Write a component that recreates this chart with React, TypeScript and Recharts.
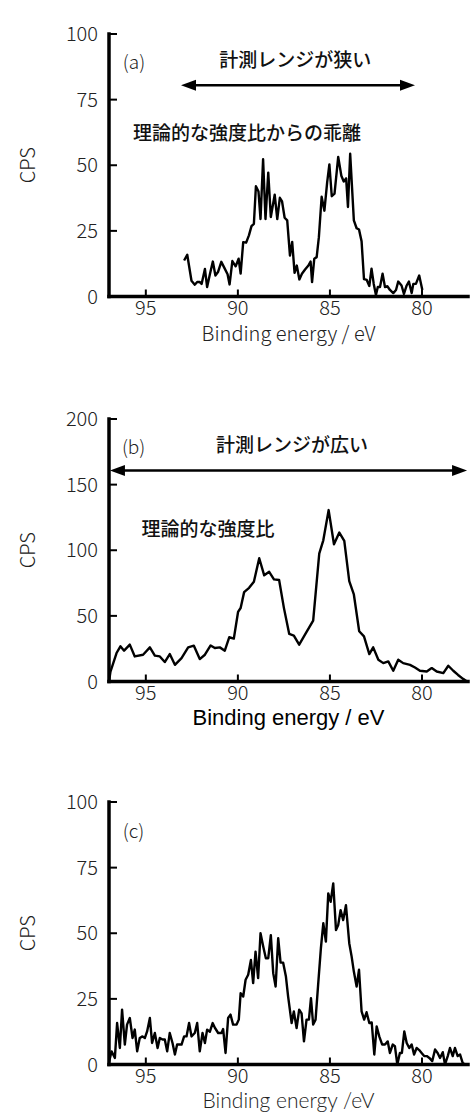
import React from 'react';
import { LineChart, Line, XAxis, YAxis, ReferenceLine, ReferenceDot, Label } from 'recharts';

// ---------------- data ----------------
const xTicks = [95, 90, 85, 80];
const yTicksA = [0, 25, 50, 75, 100];
const yTicksB = [0, 50, 100, 150, 200];
const yTicksC = [0, 25, 50, 75, 100];

const aEnergy = [92.92, 92.75, 92.52, 92.34, 92.21, 92.07, 91.97, 91.79, 91.67, 91.52, 91.36, 91.22, 91.08, 90.9, 90.74, 90.56, 90.45, 90.3, 90.12, 89.96, 89.85, 89.71, 89.55, 89.4, 89.26, 89.13, 89.02, 88.88, 88.77, 88.63, 88.5, 88.35, 88.21, 88.0, 87.86, 87.72, 87.6, 87.46, 87.32, 87.17, 87.05, 86.92, 86.8, 86.66, 86.52, 86.35, 86.17, 86.05, 85.97, 85.85, 85.72, 85.6, 85.45, 85.3, 85.15, 85.03, 84.9, 84.75, 84.55, 84.38, 84.25, 84.12, 84.02, 83.9, 83.7, 83.55, 83.42, 83.28, 83.15, 83.0, 82.86, 82.74, 82.62, 82.5, 82.4, 82.28, 82.14, 82.01, 81.88, 81.74, 81.56, 81.41, 81.29, 81.11, 80.98, 80.83, 80.71, 80.56, 80.47, 80.33, 80.15, 79.98];
const aCps = [13.7, 15.9, 6.0, 4.5, 5.5, 5.5, 4.8, 10.5, 3.6, 8.5, 13.3, 8.0, 9.3, 13.2, 11.0, 8.5, 4.6, 13.5, 11.5, 14.4, 8.7, 20.7, 20.5, 23.3, 26.8, 27.7, 42.0, 40.0, 29.5, 52.3, 29.5, 47.2, 30.3, 38.8, 29.5, 37.6, 36.2, 30.0, 29.0, 15.6, 20.8, 9.0, 11.8, 6.5, 8.7, 10.3, 11.8, 13.3, 5.5, 14.4, 15.0, 22.6, 38.0, 32.7, 43.5, 50.3, 38.2, 39.2, 53.2, 46.0, 43.8, 45.0, 34.1, 54.4, 29.0, 26.0, 25.5, 21.0, 6.6, 6.3, 4.0, 10.6, 4.8, 0.6, 3.6, 3.6, 8.7, 3.6, 3.9, 2.5, 1.3, 2.5, 5.7, 4.2, 1.0, 4.2, 5.7, 1.3, 4.8, 4.8, 8.0, 2.5];

const bEnergy = [97.0, 96.92, 96.59, 96.38, 96.18, 95.87, 95.6, 95.15, 94.78, 94.51, 94.24, 93.97, 93.7, 93.42, 93.06, 92.7, 92.39, 92.07, 91.79, 91.48, 91.25, 90.98, 90.71, 90.47, 90.22, 89.99, 89.85, 89.66, 89.39, 89.13, 88.84, 88.57, 88.3, 88.04, 87.76, 87.5, 87.21, 86.96, 86.67, 86.3, 85.91, 85.58, 85.36, 85.07, 84.78, 84.49, 84.22, 83.95, 83.7, 83.41, 83.15, 82.86, 82.65, 82.37, 82.1, 81.83, 81.56, 81.29, 81.02, 80.65, 80.38, 80.11, 79.74, 79.47, 79.2, 78.84, 78.57, 78.3, 78.04, 77.77, 77.55];
const bCps = [0, 7.6, 21.7, 26.8, 23.5, 28.1, 19.1, 20.4, 26.0, 19.7, 19.1, 14.8, 20.9, 12.7, 17.8, 26.0, 27.3, 17.1, 20.4, 27.5, 25.5, 26.0, 23.5, 33.7, 32.7, 53.0, 56.0, 68.1, 71.4, 76.0, 93.9, 80.9, 83.6, 77.8, 77.3, 56.1, 36.2, 35.0, 28.1, 37.0, 46.4, 97.5, 107.6, 130.6, 104.6, 113.5, 107.1, 76.5, 66.3, 38.3, 34.4, 20.9, 26.0, 16.6, 14.0, 15.3, 8.2, 16.6, 14.0, 12.7, 10.7, 8.2, 7.6, 10.2, 7.6, 6.4, 12.0, 8.2, 5.0, 2.0, 0];

const cEnergy = [97.0, 96.86, 96.68, 96.56, 96.41, 96.29, 96.14, 96.02, 95.87, 95.72, 95.6, 95.47, 95.33, 95.18, 95.05, 94.93, 94.78, 94.66, 94.51, 94.36, 94.24, 94.09, 93.97, 93.84, 93.7, 93.55, 93.42, 93.3, 93.06, 92.92, 92.79, 92.65, 92.52, 92.34, 92.21, 92.07, 91.92, 91.79, 91.67, 91.52, 91.37, 91.25, 91.07, 90.89, 90.8, 90.67, 90.53, 90.4, 90.26, 90.07, 89.95, 89.85, 89.71, 89.58, 89.44, 89.29, 89.17, 89.04, 88.9, 88.77, 88.62, 88.48, 88.35, 88.21, 88.08, 87.95, 87.81, 87.68, 87.54, 87.39, 87.27, 87.08, 86.96, 86.81, 86.67, 86.54, 86.41, 86.27, 86.14, 86.03, 85.91, 85.78, 85.64, 85.49, 85.36, 85.22, 85.09, 84.96, 84.82, 84.67, 84.55, 84.42, 84.28, 84.13, 83.95, 83.82, 83.7, 83.55, 83.42, 83.28, 83.14, 83.01, 82.86, 82.73, 82.59, 82.46, 82.32, 82.16, 82.01, 81.86, 81.74, 81.59, 81.47, 81.34, 81.2, 81.09, 80.96, 80.83, 80.69, 80.56, 80.43, 80.29, 80.15, 80.02, 79.88, 79.74, 79.6, 79.44, 79.29, 79.15, 79.02, 78.87, 78.75, 78.6, 78.48, 78.33, 78.21, 78.06, 77.93, 77.79, 77.66, 77.5];
const cCps = [1.0, 5.0, 2.5, 15.8, 6.3, 20.9, 7.6, 15.2, 17.7, 10.1, 13.3, 5.0, 10.1, 10.7, 10.1, 12.6, 17.7, 8.2, 12.0, 6.3, 10.1, 9.5, 9.5, 5.0, 12.0, 8.2, 3.8, 7.6, 7.6, 10.7, 10.7, 15.8, 10.7, 12.0, 15.8, 5.0, 12.0, 8.2, 13.3, 12.5, 15.8, 14.0, 12.0, 12.0, 13.5, 4.4, 17.7, 19.0, 15.2, 15.2, 17.1, 27.2, 25.9, 32.3, 34.2, 39.8, 31.0, 43.0, 32.9, 50.0, 44.9, 40.5, 40.5, 49.3, 34.8, 29.7, 48.1, 38.8, 38.8, 33.5, 25.9, 15.8, 20.2, 13.9, 20.9, 19.5, 8.8, 17.1, 17.1, 25.3, 15.2, 17.1, 30.4, 44.3, 53.8, 46.8, 65.2, 62.0, 69.0, 51.2, 53.1, 58.8, 55.0, 60.7, 46.2, 41.1, 35.4, 29.7, 36.1, 20.2, 17.1, 19.9, 15.8, 16.0, 3.8, 14.5, 10.7, 7.6, 7.6, 8.8, 4.4, 7.6, 7.0, 0, 4.4, 4.4, 12.6, 8.2, 6.3, 7.6, 3.8, 6.3, 5.5, 4.4, 3.2, 3.2, 2.5, 1.3, 5.7, 4.4, 2.5, 4.7, 0, 3.2, 6.3, 3.2, 6.3, 3.2, 3.8, 0.6, 0, 0];

const zip = (e: number[], c: number[]) => e.map((ev, i) => ({ ev, cps: c[i] }));
const dataA = zip(aEnergy, aCps);
const dataB = zip(bEnergy, bCps);
const dataC = zip(cEnergy, cCps);

// ---------------- styles ----------------
const X_DOMAIN: [number, number] = [77.5, 97];
const W = 470;
const H = 350;
const MARGIN = { top: 34, right: 2, bottom: 33.5, left: 49 };
const LIGHT = "'Noto Sans CJK JP', 'Noto Sans', sans-serif";
const frameLine = { stroke: '#000', strokeWidth: 3.5, strokeLinecap: 'square' as const };
const tickLineStyle = { stroke: '#000', strokeWidth: 2 };
const tickStyle = { fill: '#222', fontSize: 20, fontFamily: LIGHT, fontWeight: 300 };
const cjkStyle: React.CSSProperties = { fontFamily: "'Noto Sans CJK JP', sans-serif", fontSize: 19, fontWeight: 500, fill: '#111' };
const panelTagStyle: React.CSSProperties = { fontFamily: LIGHT, fontSize: 19, fontWeight: 300, fill: '#222' };

const textAt = (text: string, style: React.CSSProperties, anchor: 'start' | 'middle' = 'start') => (p: any) => (
  <text x={p.cx} y={p.cy} textAnchor={anchor} dominantBaseline="central" style={style}>{text}</text>
);

const arrowHead = (dir: 1 | -1) => (p: any) => {
  const { cx, cy } = p;
  const L = 15;
  const h = 5.5;
  return <polygon points={`${cx},${cy} ${cx - dir * L},${cy - h} ${cx - dir * L},${cy + h}`} fill="#000" />;
};

const cpsLabel = (props: any) => {
  const vb = props.viewBox || {};
  const cy = vb.y !== undefined ? vb.y + vb.height / 2 : 165;
  return (
    <text x={26} y={cy} transform={`rotate(-90, 26, ${cy})`} textAnchor="middle" dominantBaseline="central"
      style={{ fontFamily: LIGHT, fontSize: 20, fontWeight: 300, fill: '#222' }}>CPS</text>
  );
};

const xTitle = (text: string, dy: number, style: React.CSSProperties) => (props: any) => {
  const vb = props.viewBox || {};
  return (
    <text x={vb.x + vb.width / 2} y={vb.y + dy} textAnchor="middle" dominantBaseline="central" style={style}>{text}</text>
  );
};

const lightTitle: React.CSSProperties = { fontFamily: LIGHT, fontSize: 20, fontWeight: 300, fill: '#222' };
const arialTitle: React.CSSProperties = { fontFamily: "'Liberation Sans', Arial, sans-serif", fontSize: 22, fill: '#000' };
const lightTitleC: React.CSSProperties = { fontFamily: "Lato, 'Noto Sans', sans-serif", fontSize: 21, fontWeight: 300, fill: '#222' };

function panel(data: any[], yMax: number, yTicks: number[], title: React.ReactNode, extras: React.ReactNode[]) {
  return (
    <LineChart width={W} height={H} data={data} margin={MARGIN}>
      <XAxis xAxisId="b" dataKey="ev" type="number" domain={X_DOMAIN} reversed ticks={xTicks} interval={0}
        tickSize={-7} tickMargin={11} height={20} axisLine={frameLine} tickLine={tickLineStyle} tick={tickStyle}>
        {title}
      </XAxis>
      <XAxis xAxisId="t" orientation="top" type="number" domain={X_DOMAIN} reversed height={0}
        tick={false} tickLine={false} axisLine={frameLine} />
      <YAxis yAxisId="l" type="number" domain={[0, yMax]} ticks={yTicks} interval={0}
        tickSize={-8} tickMargin={19} width={60} axisLine={frameLine} tickLine={tickLineStyle} tick={tickStyle}>
        <Label content={cpsLabel} />
      </YAxis>
      <YAxis yAxisId="r" orientation="right" type="number" domain={[0, yMax]} width={0}
        tick={false} tickLine={false} axisLine={frameLine} />
      <Line xAxisId="b" yAxisId="l" dataKey="cps" type="linear" stroke="#000" strokeWidth={2.4}
        strokeLinejoin="round" dot={false} activeDot={false} isAnimationActive={false} />
      {extras}
    </LineChart>
  );
}

const refProps = { xAxisId: 'b', yAxisId: 'l', ifOverflow: 'visible' as const };

export default function App() {
  const extrasA = [
    <ReferenceDot key="t" {...refProps} x={96.25} y={90} r={1} shape={textAt('(a)', panelTagStyle)} />,
    <ReferenceDot key="h" {...refProps} x={86.88} y={90.7} r={1} shape={textAt('計測レンジが狭い', cjkStyle, 'middle')} />,
    <ReferenceLine key="s" {...refProps} segment={[{ x: 92.6, y: 80.5 }, { x: 80.9, y: 80.5 }]} stroke="#000" strokeWidth={2.5} />,
    <ReferenceDot key="l" {...refProps} x={93.09} y={80.5} r={1} shape={arrowHead(-1)} />,
    <ReferenceDot key="r" {...refProps} x={80.38} y={80.5} r={1} shape={arrowHead(1)} />,
    <ReferenceDot key="n" {...refProps} x={95.7} y={63} r={1} shape={textAt('理論的な強度比からの乖離', cjkStyle)} />,
  ];
  const extrasB = [
    <ReferenceDot key="t" {...refProps} x={96.3} y={180} r={1} shape={textAt('(b)', panelTagStyle)} />,
    <ReferenceDot key="h" {...refProps} x={87.06} y={181} r={1} shape={textAt('計測レンジが広い', cjkStyle, 'middle')} />,
    <ReferenceLine key="s" {...refProps} segment={[{ x: 96.45, y: 160.7 }, { x: 78.05, y: 160.7 }]} stroke="#000" strokeWidth={2.5} />,
    <ReferenceDot key="l" {...refProps} x={96.95} y={160.7} r={1} shape={arrowHead(-1)} />,
    <ReferenceDot key="r" {...refProps} x={77.55} y={160.7} r={1} shape={arrowHead(1)} />,
    <ReferenceDot key="n" {...refProps} x={95.23} y={117} r={1} shape={textAt('理論的な強度比', cjkStyle)} />,
  ];
  const extrasC = [
    <ReferenceDot key="t" {...refProps} x={96.25} y={89.4} r={1} shape={textAt('(c)', panelTagStyle)} />,
  ];

  return (
    <div style={{ position: 'absolute', left: 0, top: 0, width: 470, height: 1112, background: '#fff', overflow: 'hidden' }}>
      <div style={{ position: 'absolute', left: 0, top: 0 }}>
        {panel(dataA, 100, yTicksA, <Label content={xTitle('Binding energy / eV', 36, lightTitle)} />, extrasA)}
      </div>
      <div style={{ position: 'absolute', left: 0, top: 385 }}>
        {panel(dataB, 200, yTicksB, <Label content={xTitle('Binding energy / eV', 36, arialTitle)} />, extrasB)}
      </div>
      <div style={{ position: 'absolute', left: 0, top: 768 }}>
        {panel(dataC, 100, yTicksC, <Label content={xTitle('Binding energy /eV', 35, lightTitleC)} />, extrasC)}
      </div>
    </div>
  );
}
